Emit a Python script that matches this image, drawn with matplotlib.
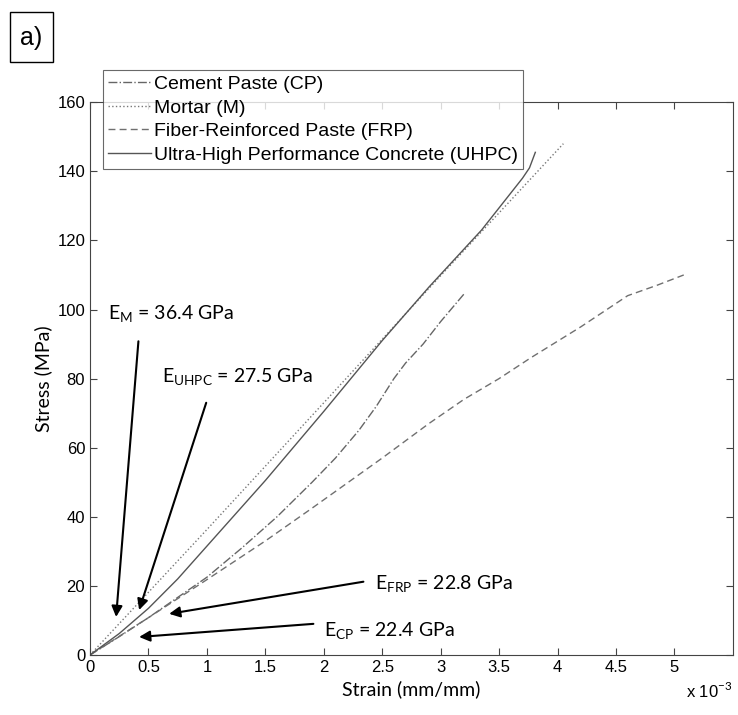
import matplotlib
matplotlib.use('Agg')
import matplotlib.pyplot as plt
from matplotlib.patches import Rectangle

# strain in units of 1e-3 mm/mm, stress in MPa
cp_strain = [0, 0.25, 0.5, 1.0, 1.3, 1.6, 1.9, 2.1, 2.3, 2.45, 2.6, 2.7, 2.85, 3.0, 3.2]
cp_stress = [0, 5.3, 10.8, 22.5, 31, 40, 50, 57, 65, 72, 80, 84.5, 90, 96.5, 104.5]

m_strain = [0, 1.0, 2.0, 3.0, 4.05]
m_stress = [0, 36.3, 73, 109.8, 148]

frp_strain = [0, 0.5, 1.0, 1.5, 1.9, 2.5, 2.9, 3.2, 3.5, 3.77, 4.2, 4.6, 4.85, 5.08]
frp_stress = [0, 10.8, 21.8, 33, 42.5, 57, 67, 74, 80, 86, 95, 104, 107, 110]

uhpc_strain = [0, 0.25, 0.5, 0.75, 1.0, 1.5, 2.0, 2.5, 2.9, 3.35, 3.63, 3.7, 3.76, 3.81]
uhpc_stress = [0, 6.2, 13.5, 22, 31.5, 50.5, 70.5, 91, 106.5, 123, 135, 138, 141, 145.5]

labels = ['Cement Paste (CP)', 'Mortar (M)', 'Fiber-Reinforced Paste (FRP)',
          'Ultra-High Performance Concrete (UHPC)']

plt.rcParams['mathtext.fontset'] = 'custom'
plt.rcParams['mathtext.rm'] = 'Lato'
plt.rcParams['font.family'] = 'Liberation Sans'

fig = plt.figure(figsize=(7.38, 7.15), dpi=100)
ax = fig.add_axes([0.122, 0.084, 0.871, 0.773])

ax.plot(cp_strain, cp_stress, '-.', color='#666666', lw=1.0, label=labels[0])
ax.plot(m_strain, m_stress, ':', color='#777777', lw=1.0, label=labels[1])
ax.plot(frp_strain, frp_stress, '--', color='#707070', lw=1.0, dashes=(5, 3), label=labels[2])
ax.plot(uhpc_strain, uhpc_stress, '-', color='#555555', lw=1.0, label=labels[3])

ax.set_xlim(0, 5.5)
ax.set_ylim(0, 160)
ax.set_xticks([0, 0.5, 1, 1.5, 2, 2.5, 3, 3.5, 4, 4.5, 5])
ax.set_xticklabels(['0', '0.5', '1', '1.5', '2', '2.5', '3', '3.5', '4', '4.5', '5'])
ax.set_yticks(range(0, 161, 20))
ax.tick_params(direction='in', top=True, right=True, labelsize=12, length=5, color='#444444')
for s in ax.spines.values():
    s.set_color('#444444')

ax.set_xlabel('Strain (mm/mm)', fontname='Lato', fontsize=14)
ax.set_ylabel('Stress (MPa)', fontname='Lato', fontsize=14)
ax.text(1.0, -0.047, r'x 10$^{-3}$', transform=ax.transAxes, ha='right', va='top', fontsize=12)

leg = ax.legend(loc='upper left', bbox_to_anchor=(0.02, 1.058), fontsize=14, frameon=True,
                fancybox=False, edgecolor='#444444', handlelength=2.2, handletextpad=0.15,
                borderpad=0.28, labelspacing=0.3, borderaxespad=0)
leg.get_frame().set_linewidth(0.8)

arrow = dict(arrowstyle='-|>', color='k', lw=1.5, mutation_scale=16, shrinkA=0, shrinkB=0)
tfont = dict(fontname='Lato', fontsize=14, va='center', ha='left')

ax.annotate('', xy=(0.223, 11.0), xytext=(0.414, 90.8), arrowprops=arrow)
ax.text(0.154, 98.6, r'E$_{\mathrm{M}}$ = 36.4 GPa', **tfont)

ax.annotate('', xy=(0.42, 13.0), xytext=(0.994, 73.0), arrowprops=arrow)
ax.text(0.617, 80.3, r'E$_{\mathrm{UHPC}}$ = 27.5 GPa', **tfont)

ax.annotate('', xy=(0.677, 11.9), xytext=(2.339, 21.2), arrowprops=arrow)
ax.text(2.44, 20.3, r'E$_{\mathrm{FRP}}$ = 22.8 GPa', **tfont)

ax.annotate('', xy=(0.42, 5.2), xytext=(1.911, 9.0), arrowprops=arrow)
ax.text(2.0, 6.7, r'E$_{\mathrm{CP}}$ = 22.4 GPa', **tfont)

fig.patches.append(Rectangle((10 / 738, 1 - 62 / 715), 43 / 738, 50 / 715,
                             transform=fig.transFigure, fc='white', ec='black', lw=1.0))
fig.text(31 / 738, 1 - 38 / 715, 'a)', fontsize=18, ha='center', va='center')

fig.savefig('out.png', dpi=100)
